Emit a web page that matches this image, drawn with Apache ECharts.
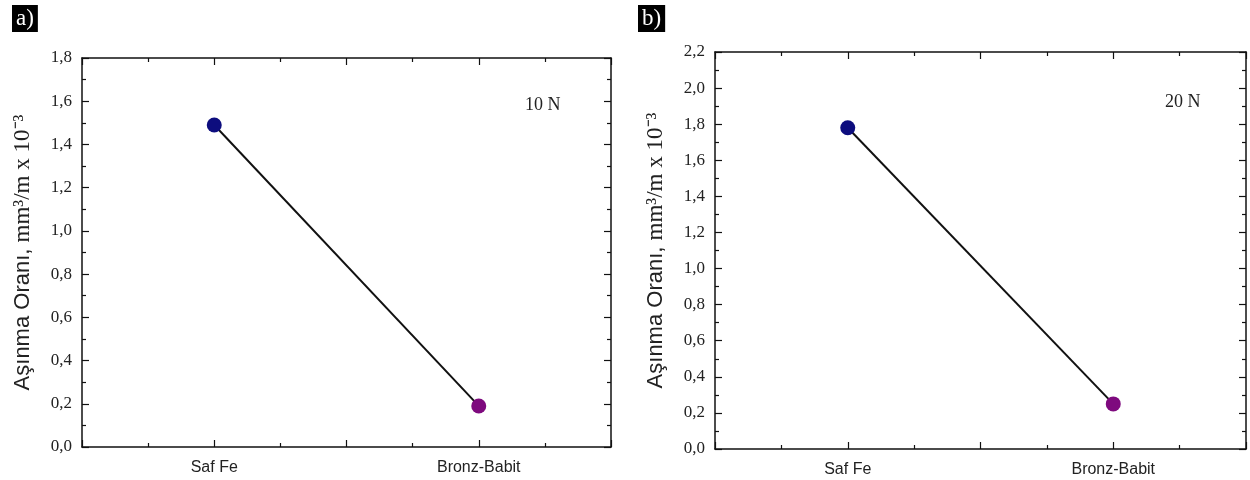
<!DOCTYPE html>
<html>
<head>
<meta charset="utf-8">
<script src="https://cdn.jsdelivr.net/npm/echarts@6/dist/echarts.min.js"></script>
<style>html,body{margin:0;padding:0;background:#fff}#c{width:1250px;height:480px}</style>
</head>
<body>
<div id="c"></div>
<script>
const categories = ['Saf Fe', 'Bronz-Babit'];
const valuesA = [1.49, 0.19];
const valuesB = [1.78, 0.25];
const loadA = '10 N';
const loadB = '20 N';
const yMaxA = 1.8;
const yMaxB = 2.2;
const pointColors = ['#0d0d7e', '#7e0a7e'];

const serif = '"Liberation Serif", "Times New Roman", serif';
const narrow = '"Liberation Sans Narrow", "Liberation Sans", Arial, sans-serif';

function seriesData(vals) {
  return vals.map((v, i) => ({ value: [i + 1, v], itemStyle: { color: pointColors[i] } }));
}

function xAxisCfg(gi, pos, showLabel) {
  return {
    type: 'value', gridIndex: gi, position: pos, min: 0.5, max: 2.5, interval: 0.5,
    axisLine: { show: true, onZero: false, lineStyle: { color: '#111', width: 1.5 } },
    axisTick: { show: true, inside: true, length: 7, lineStyle: { color: '#111', width: 1.2 } },
    minorTick: { show: true, splitNumber: 2, length: 4, lineStyle: { color: '#111', width: 1.2 } },
    splitLine: { show: false },
    axisLabel: {
      show: showLabel, margin: 13, fontFamily: narrow, fontSize: 16, color: '#222',
      formatter: v => (Number.isInteger(v) && categories[v - 1]) ? categories[v - 1] : ''
    }
  };
}

const nameRich = {
  s: { fontFamily: '"Liberation Sans", Arial, sans-serif', fontSize: 22, color: '#222' },
  t: { fontFamily: serif, fontSize: 23, color: '#222' }
};
const yName = '{s|Aşınma Oranı, }{t|mm³/m x 10⁻³}';

function yAxisCfg(gi, pos, max, showLabel) {
  return {
    type: 'value', gridIndex: gi, position: pos, min: 0, max: max, interval: 0.2,
    name: showLabel ? yName : '', nameLocation: 'middle', nameGap: 48, nameRotate: 90,
    nameTextStyle: { rich: nameRich },
    axisLine: { show: true, onZero: false, lineStyle: { color: '#111', width: 1.5 } },
    axisTick: { show: true, inside: true, length: 7, lineStyle: { color: '#111', width: 1.2 } },
    minorTick: { show: true, splitNumber: 2, length: 4, lineStyle: { color: '#111', width: 1.2 } },
    splitLine: { show: false },
    axisLabel: {
      show: showLabel, margin: 10, fontFamily: serif, fontSize: 17, color: '#222',
      formatter: v => v.toFixed(1).replace('.', ',')
    }
  };
}

function lineSeries(gi, vals) {
  return {
    type: 'line', xAxisIndex: gi * 2, yAxisIndex: gi * 2, data: seriesData(vals),
    symbol: 'circle', symbolSize: 15, showSymbol: true,
    lineStyle: { color: '#111', width: 2 }, z: 3, animation: false
  };
}

const chart = echarts.init(document.getElementById('c'), null, { renderer: 'canvas' });
chart.setOption({
  backgroundColor: '#fff',
  animation: false,
  title: [
    { text: 'a)', left: 12, top: 5, backgroundColor: '#000', padding: [2, 4, 2, 4],
      textStyle: { color: '#fff', fontFamily: serif, fontSize: 23, fontWeight: 'normal' } },
    { text: 'b)', left: 638, top: 5, backgroundColor: '#000', padding: [2, 4, 2, 4],
      textStyle: { color: '#fff', fontFamily: serif, fontSize: 23, fontWeight: 'normal' } }
  ],
  grid: [
    { left: 82, top: 58, right: 639, bottom: 33 },
    { left: 715, top: 52, right: 4, bottom: 31 }
  ],
  xAxis: [
    xAxisCfg(0, 'bottom', true), xAxisCfg(0, 'top', false),
    xAxisCfg(1, 'bottom', true), xAxisCfg(1, 'top', false)
  ],
  yAxis: [
    yAxisCfg(0, 'left', yMaxA, true), yAxisCfg(0, 'right', yMaxA, false),
    yAxisCfg(1, 'left', yMaxB, true), yAxisCfg(1, 'right', yMaxB, false)
  ],
  series: [lineSeries(0, valuesA), lineSeries(1, valuesB)],
  graphic: [
    { type: 'text', left: 525, top: 96, style: { text: loadA, font: '18px ' + serif, fill: '#222' } },
    { type: 'text', left: 1165, top: 93, style: { text: loadB, font: '18px ' + serif, fill: '#222' } }
  ]
});
</script>
</body>
</html>
